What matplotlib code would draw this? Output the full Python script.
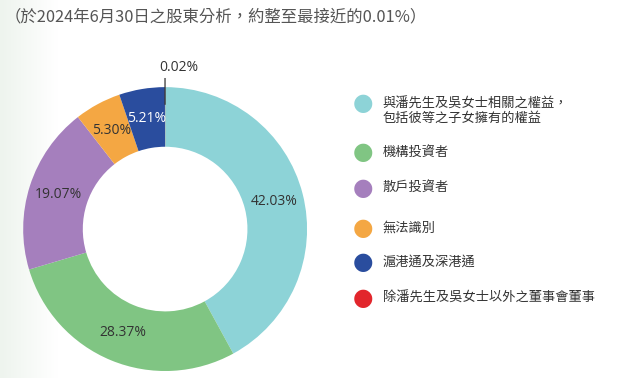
import numpy as np
import matplotlib
matplotlib.use("Agg")
import matplotlib.pyplot as plt
from matplotlib.colors import LinearSegmentedColormap

plt.rcParams['font.family'] = ['Noto Sans CJK TC', 'DejaVu Sans']

# shareholder analysis as at 30 June 2024
labels = [
    '與潘先生及吳女士相關之權益，\n包括彼等之子女擁有的權益',
    '機構投資者',
    '散戶投資者',
    '無法識別',
    '滬港通及深港通',
    '除潘先生及吳女士以外之董事會董事',
]
shares = [42.03, 28.37, 19.07, 5.30, 5.21, 0.02]
colors = ['#8dd3d7', '#80c583', '#a57fbd', '#f4a743', '#2a4d9e', '#e2262c']
pct_colors = ['#333333', '#333333', '#333333', '#333333', 'white', '#333333']
title = '（於2024年6月30日之股東分析，約整至最接近的0.01%）'

fig = plt.figure(figsize=(6.4, 3.78), dpi=100)

# faint tinted strip on the left edge
bg = fig.add_axes([0, 0, 0.09, 1], zorder=-5)
grad = np.linspace(0, 1, 100).reshape(1, -1)
cmap = LinearSegmentedColormap.from_list('bg', ['#eef4ee', '#ffffff'])
bg.imshow(grad, aspect='auto', cmap=cmap, extent=[0, 1, 0, 1])
bg.axis('off')

fig.text(0.008, 0.955, title, fontsize=11.8, color='#555555', va='center', ha='left')

ax = fig.add_axes([0.036, 0.0185, 0.444, 0.751])
wedges, texts, autotexts = ax.pie(
    shares, colors=colors, startangle=90, counterclock=False,
    wedgeprops=dict(width=0.42, edgecolor='none'),
    autopct='%.2f%%', pctdistance=0.79,
    textprops=dict(fontsize=10, family=['Open Sans', 'DejaVu Sans']))
for t, c in zip(autotexts, pct_colors):
    t.set_color(c)

# smallest slice gets a leader line and label above the ring
small = wedges[-1]
ang = np.deg2rad((small.theta1 + small.theta2) / 2)
autotexts[-1].set_text('')
ax.plot([1.06 * np.cos(ang), 0.88 * np.cos(ang)],
        [1.06 * np.sin(ang), 0.88 * np.sin(ang)], color='#333333', lw=0.9,
        clip_on=False, zorder=5)
ax.text(1.14 * np.cos(ang) + 0.1, 1.14 * np.sin(ang), f'{shares[-1]:.2f}%',
        ha='center', va='center', fontsize=10, color='#333333',
        family=['Open Sans', 'DejaVu Sans'])
ax.set_xlim(-1, 1)
ax.set_ylim(-1, 1)
ax.set_aspect('equal')

# legend drawn by hand so the spacing matches
leg_y = [0.728, 0.598, 0.503, 0.397, 0.307, 0.212]
for lab, col, y in zip(labels, colors, leg_y):
    fig.text(0.567, y, '●', color=col, fontsize=17, ha='center', va='center',
             family=['DejaVu Sans'])
    fig.text(0.598, y + (0.014 if '\n' in lab else 0), lab, fontsize=9.5,
             color='#333333', ha='left',
             va='center' if '\n' not in lab else 'top',
             linespacing=1.15)

fig.savefig('out.png', dpi=100)
